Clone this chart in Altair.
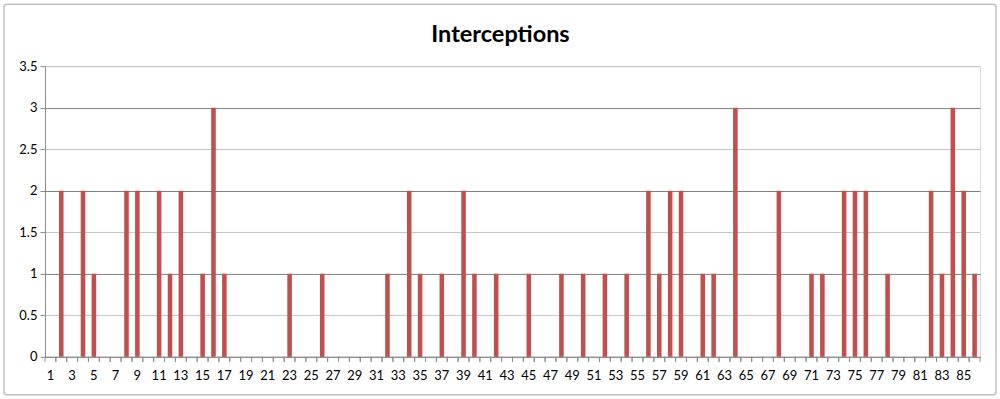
import altair as alt
import pandas as pd

games = list(range(1, 87))
interceptions = [
    0, 2, 0, 2, 1, 0, 0, 2, 2, 0,
    2, 1, 2, 0, 1, 3, 1, 0, 0, 0,
    0, 0, 1, 0, 0, 1, 0, 0, 0, 0,
    0, 1, 0, 2, 1, 0, 1, 0, 2, 1,
    0, 1, 0, 0, 1, 0, 0, 1, 0, 1,
    0, 1, 0, 1, 0, 2, 1, 2, 2, 0,
    1, 1, 0, 3, 0, 0, 0, 2, 0, 0,
    1, 1, 0, 2, 2, 2, 0, 1, 0, 0,
    0, 2, 1, 3, 2, 1,
]
y_ticks = [0, 0.5, 1, 1.5, 2, 2.5, 3, 3.5]
x_labels = games[::2]
title_text = "Interceptions"

df = pd.DataFrame({"game": games, "interceptions": interceptions})

W, H = 936, 291
FONT = "Lato"
GRAY = "#8c8c8c"

x_scale = alt.Scale(paddingInner=0, paddingOuter=0)
x_axis = alt.Axis(
    title=None, ticks=False, domain=True, domainColor=GRAY, grid=False,
    values=x_labels, labelAngle=0, labelPadding=13, labelFont=FONT,
    labelFontSize=13, labelColor="#000000", labelOverlap=False,
)

bars = alt.Chart(df).mark_bar(
    color="#C0504D", width=alt.RelativeBandSize(0.42)
).encode(
    x=alt.X("game:O", scale=x_scale, axis=x_axis),
    y=alt.Y(
        "interceptions:Q",
        scale=alt.Scale(domain=[0, 3.5], nice=False),
        axis=alt.Axis(
            title=None, values=y_ticks, format="~g", tickSize=5,
            tickColor=GRAY, domainColor=GRAY,
            gridColor=alt.condition("datum.value % 1 == 0", alt.value("#7f7f7f"), alt.value("#c4c4c4")),
            labelFont=FONT, labelFontSize=13, labelColor="#000000", labelPadding=3,
        ),
    ),
)

ticks_left = alt.Chart(df).mark_rule(color=GRAY, strokeWidth=1).encode(
    x=alt.X("game:O", bandPosition=0, scale=x_scale, axis=x_axis),
    y=alt.value(H), y2=alt.value(H + 5),
)
ticks_right = alt.Chart(df).mark_rule(color=GRAY, strokeWidth=1).encode(
    x=alt.X("game:O", bandPosition=1, scale=x_scale, axis=x_axis),
    y=alt.value(H), y2=alt.value(H + 5),
)

frame_df = pd.DataFrame({"a": [0]})
border = alt.Chart(frame_df).mark_rect(
    fill="transparent", stroke="#c0c0c0", strokeWidth=1.5, cornerRadius=3
).encode(
    x=alt.value(-41), x2=alt.value(952), y=alt.value(-62), y2=alt.value(329)
)

title = alt.Chart(frame_df).mark_text(
    font=FONT, fontSize=23.5, fontWeight="bold", color="#000000",
    align="center", baseline="alphabetic",
).encode(
    x=alt.value(456), y=alt.value(-24), text=alt.value(title_text)
)

chart = alt.layer(border, bars, ticks_left, ticks_right, title).properties(
    width=W, height=H,
    padding={"left": 3, "top": 3, "right": 3, "bottom": 4},
).configure_view(stroke="transparent").configure(background="#ffffff")

chart.save("out.html", embed_options={"renderer": "svg", "actions": False})
